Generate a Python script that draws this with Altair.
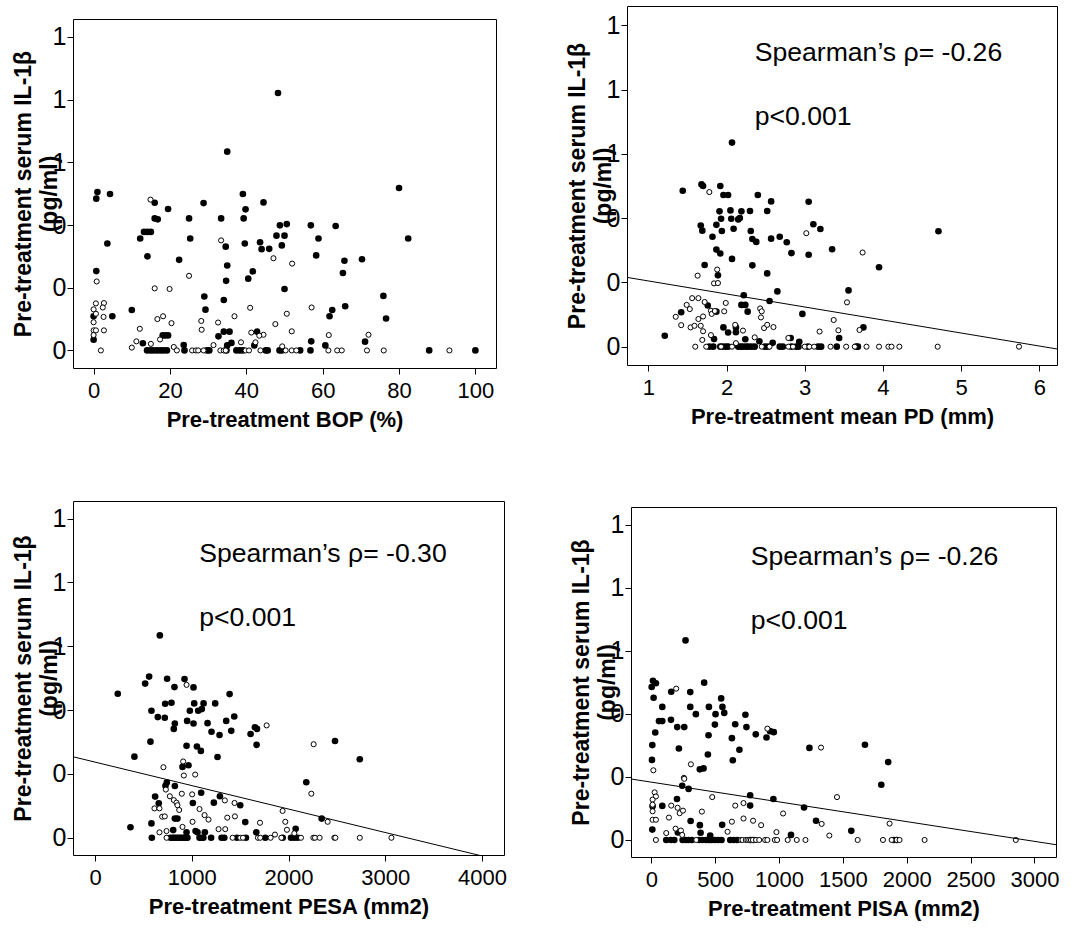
import altair as alt
import pandas as pd

FONT = "Liberation Sans"

Y_TITLE = ["Pre-treatment serum IL-1β", "(pg/ml)"]
Y_TICKS = [0, 0.2, 0.4, 0.6, 0.8, 1.0]

# ---------------- Panel 1: BOP (%) ----------------
bop_filled = [
    (48.3, 0.821), (35.0, 0.634), (80.0, 0.518), (0.7, 0.484), (1.0, 0.505), (4.3, 0.499),
    (16.0, 0.471), (19.5, 0.451), (28.8, 0.470), (39.1, 0.499), (44.5, 0.472), (39.8, 0.450),
    (25.0, 0.421), (33.4, 0.421), (39.3, 0.421), (16.0, 0.421), (16.8, 0.418), (48.8, 0.399),
    (50.6, 0.403), (56.9, 0.399), (63.4, 0.397), (12.2, 0.357), (13.2, 0.378), (14.1, 0.378),
    (15.0, 0.378), (25.3, 0.357), (47.9, 0.366), (50.0, 0.366), (58.9, 0.357), (82.4, 0.357),
    (3.6, 0.341), (43.6, 0.345), (39.6, 0.341), (34.6, 0.331), (44.0, 0.323), (46.0, 0.324),
    (49.3, 0.335), (14.1, 0.300), (22.4, 0.289), (58.3, 0.303), (65.7, 0.286), (70.3, 0.291),
    (35.0, 0.271), (0.7, 0.253), (41.7, 0.252), (65.3, 0.247), (40.5, 0.229), (34.7, 0.222),
    (50.0, 0.196), (29.0, 0.172), (75.9, 0.174), (34.1, 0.161), (10.0, 0.129), (29.3, 0.130),
    (65.9, 0.141), (62.5, 0.129), (61.8, 0.109), (76.6, 0.102), (0.0, 0.109), (4.9, 0.109),
    (0.0, 0.034), (18.1, 0.048), (18.8, 0.048), (19.5, 0.048), (32.7, 0.045), (34.1, 0.060),
    (35.6, 0.060), (42.8, 0.060), (12.9, 0.023), (23.6, 0.017), (36.1, 0.024), (42.1, 0.016),
    (57.0, 0.029), (60.7, 0.016), (71.1, 0.028), (35.0, 0.016),
]
bop_filled_zero = [14.0, 14.9, 15.7, 16.6, 17.5, 18.3, 19.2, 23.8, 29.7, 30.3, 34.8, 37.4,
                   38.3, 39.1, 45.1, 45.6, 48.7, 49.3, 54.1, 56.8, 87.9, 100.0]
bop_open = [
    (14.9, 0.481), (33.4, 0.351), (47.1, 0.294), (52.0, 0.277), (0.8, 0.220), (25.0, 0.238),
    (16.0, 0.198), (19.9, 0.196), (0.6, 0.150), (2.7, 0.151), (0.0, 0.131), (2.4, 0.137),
    (0.6, 0.117), (2.6, 0.107), (18.2, 0.109), (16.7, 0.100), (0.0, 0.090), (0.0, 0.064),
    (0.6, 0.064), (0.0, 0.049), (2.7, 0.064), (12.1, 0.069), (20.4, 0.087), (28.2, 0.094),
    (28.3, 0.066), (32.6, 0.089), (36.9, 0.109), (41.0, 0.136), (57.1, 0.137), (50.6, 0.117),
    (47.6, 0.084), (41.3, 0.057), (44.5, 0.050), (43.4, 0.047), (51.9, 0.061), (61.6, 0.049),
    (72.0, 0.050), (17.4, 0.035), (11.2, 0.029), (15.0, 0.021), (21.0, 0.011), (10.0, 0.009),
    (31.4, 0.017), (38.6, 0.026), (42.4, 0.026), (49.4, 0.013),
]
bop_open_zero = [1.9, 21.8, 25.8, 26.8, 27.4, 28.8, 33.2, 34.1, 34.6, 39.8, 40.7, 43.7, 50.3,
                 51.9, 53.1, 61.5, 63.8, 65.0, 71.6, 76.0, 93.2]

# ---------------- Panel 2: mean PD (mm) ----------------
pd_filled = [
    (2.07, 0.635), (1.44, 0.485), (1.68, 0.505), (1.70, 0.500), (1.92, 0.500), (1.96, 0.472),
    (2.02, 0.472), (2.40, 0.472), (2.57, 0.452), (3.05, 0.451), (1.91, 0.421), (2.05, 0.424),
    (2.19, 0.421), (2.30, 0.422), (2.52, 0.422), (1.93, 0.398), (2.06, 0.398), (2.15, 0.396),
    (2.17, 0.400), (1.67, 0.377), (1.87, 0.379), (2.09, 0.367), (3.11, 0.381), (3.20, 0.366),
    (4.71, 0.359), (1.69, 0.361), (1.94, 0.360), (2.31, 0.360), (1.82, 0.342), (2.68, 0.342),
    (2.57, 0.336), (2.33, 0.335), (2.38, 0.326), (2.77, 0.325), (1.87, 0.302), (1.92, 0.290),
    (2.83, 0.291), (3.35, 0.303), (3.05, 0.286), (2.07, 0.273), (1.72, 0.254), (2.33, 0.253),
    (3.95, 0.247), (2.52, 0.228), (1.89, 0.222), (2.65, 0.172), (3.56, 0.175), (2.22, 0.160),
    (2.55, 0.142), (1.76, 0.128), (2.19, 0.130), (2.24, 0.130), (2.27, 0.109), (2.97, 0.102),
    (1.42, 0.107), (1.87, 0.109), (1.96, 0.060), (2.12, 0.060), (2.12, 0.045), (2.02, 0.044),
    (3.75, 0.060), (1.21, 0.034), (1.84, 0.024), (2.24, 0.023), (2.42, 0.017), (2.59, 0.012),
    (2.82, 0.027), (2.93, 0.015), (3.44, 0.027),
]
pd_filled_zero = [1.78, 1.83, 1.92, 1.95, 1.99, 2.02, 2.15, 2.18, 2.21, 2.25, 2.28, 2.32, 2.36,
                  2.49, 2.53, 2.68, 2.72, 2.83, 2.89, 2.92, 3.04, 3.17, 3.21, 3.41, 3.66, 3.68]
pd_open = [
    (1.78, 0.481), (3.02, 0.353), (3.74, 0.293), (1.88, 0.240), (1.63, 0.221), (1.84, 0.197),
    (1.89, 0.198), (3.54, 0.138), (1.56, 0.151), (1.64, 0.151), (1.49, 0.130), (1.53, 0.117),
    (1.72, 0.139), (1.99, 0.136), (1.35, 0.093), (1.64, 0.086), (1.70, 0.094), (1.80, 0.112),
    (1.81, 0.102), (1.85, 0.111), (1.97, 0.110), (2.43, 0.119), (2.45, 0.110), (2.44, 0.091),
    (1.42, 0.067), (1.54, 0.060), (1.59, 0.065), (1.67, 0.065), (1.70, 0.048), (1.80, 0.036),
    (2.11, 0.068), (2.21, 0.050), (2.48, 0.058), (2.52, 0.068), (2.60, 0.061), (3.37, 0.083),
    (3.43, 0.051), (3.19, 0.047), (3.70, 0.052), (1.69, 0.021), (2.12, 0.011), (2.36, 0.029),
    (2.79, 0.027),
]
pd_open_zero = [1.60, 1.74, 1.93, 2.07, 2.45, 2.55, 2.79, 2.85, 3.00, 3.06, 3.12, 3.33, 3.53,
                3.64, 3.79, 3.95, 4.07, 4.11, 4.21, 4.70, 5.74]

# ---------------- Panel 3: PESA (mm2) ----------------
pesa_filled = [
    (670, 0.634), (235, 0.451), (559, 0.505), (518, 0.483), (745, 0.498), (925, 0.497),
    (1018, 0.471), (821, 0.472), (1391, 0.450), (725, 0.420), (790, 0.423), (1025, 0.421),
    (1122, 0.421), (1242, 0.421), (583, 0.398), (980, 0.398), (1066, 0.398), (1104, 0.403),
    (649, 0.378), (721, 0.376), (952, 0.366), (825, 0.358), (814, 0.341), (1018, 0.358),
    (1163, 0.359), (1356, 0.366), (1439, 0.380), (1408, 0.335), (1204, 0.332), (1287, 0.322),
    (1653, 0.346), (1674, 0.341), (1608, 0.325), (573, 0.301), (946, 0.288), (1053, 0.286),
    (1094, 0.272), (1670, 0.291), (2481, 0.303), (407, 0.254), (1266, 0.253), (2737, 0.246),
    (904, 0.222), (966, 0.227), (742, 0.173), (728, 0.163), (825, 0.162), (1097, 0.141),
    (621, 0.129), (1291, 0.130), (2184, 0.174), (659, 0.108), (1011, 0.109), (1228, 0.110),
    (1501, 0.102), (825, 0.060), (852, 0.060), (583, 0.045), (1553, 0.049), (2343, 0.060),
    (366, 0.033), (808, 0.024), (946, 0.017), (1039, 0.021), (1059, 0.017), (1135, 0.017),
    (1667, 0.017), (2074, 0.028),
]
pesa_filled_zero = [587, 780, 800, 820, 840, 860, 880, 900, 920, 940, 955, 1080, 1100, 1120,
                    1200, 1308, 1336, 1467, 1560, 1760, 1940, 2026, 2060, 2095]
pesa_open = [
    (946, 0.479), (1774, 0.352), (2260, 0.293), (911, 0.239), (707, 0.221), (918, 0.195),
    (1035, 0.198), (732, 0.151), (773, 0.130), (814, 0.118), (842, 0.110), (852, 0.102),
    (897, 0.138), (1004, 0.136), (1342, 0.117), (1442, 0.109), (2236, 0.138), (614, 0.092),
    (666, 0.092), (694, 0.066), (721, 0.067), (1080, 0.090), (1132, 0.071), (1173, 0.057),
    (870, 0.087), (1008, 0.050), (1367, 0.063), (1446, 0.067), (1705, 0.047), (1939, 0.084),
    (1967, 0.050), (1984, 0.025), (2405, 0.050), (904, 0.034), (739, 0.021), (666, 0.017),
    (1277, 0.027), (1346, 0.027), (1860, 0.010), (2060, 0.014),
]
pesa_open_zero = [739, 1422, 1501, 1529, 1684, 1708, 1815, 1926, 2129, 2257, 2274, 2322, 2474,
                  2485, 2737, 3064]

# ---------------- Panel 4: PISA (mm2) ----------------
pisa_filled = [
    (268, 0.633), (13, 0.505), (36, 0.497), (3, 0.485), (414, 0.499), (18, 0.451),
    (156, 0.470), (305, 0.469), (547, 0.449), (86, 0.422), (305, 0.422), (451, 0.422),
    (557, 0.422), (349, 0.399), (503, 0.399), (571, 0.403), (737, 0.397), (60, 0.377),
    (86, 0.377), (154, 0.381), (498, 0.366), (657, 0.367), (203, 0.358), (258, 0.358),
    (745, 0.358), (31, 0.341), (818, 0.335), (959, 0.342), (930, 0.345), (448, 0.332),
    (631, 0.323), (902, 0.325), (8, 0.301), (216, 0.290), (690, 0.286), (1238, 0.292),
    (1673, 0.302), (5, 0.254), (443, 0.271), (638, 0.253), (1855, 0.247), (380, 0.224),
    (409, 0.227), (242, 0.172), (292, 0.162), (1801, 0.175), (201, 0.130), (774, 0.142),
    (956, 0.130), (10, 0.107), (86, 0.108), (774, 0.109), (1196, 0.103), (308, 0.060),
    (555, 0.048), (380, 0.047), (1290, 0.061), (8, 0.033), (208, 0.024), (386, 0.023),
    (461, 0.014), (1094, 0.016), (1566, 0.029),
]
pisa_filled_zero = [117, 154, 180, 245, 270, 292, 318, 375, 400, 430, 452, 470, 497, 523, 550,
                    618, 644, 672, 777, 800, 1900, 1923]
pisa_open = [
    (195, 0.480), (909, 0.353), (1329, 0.293), (16, 0.221), (310, 0.240), (255, 0.197),
    (258, 0.194), (26, 0.151), (36, 0.138), (477, 0.136), (1454, 0.136), (10, 0.128),
    (10, 0.112), (10, 0.091), (10, 0.064), (36, 0.064), (156, 0.109), (206, 0.102),
    (222, 0.085), (248, 0.093), (396, 0.090), (138, 0.071), (657, 0.109), (722, 0.117),
    (1032, 0.084), (631, 0.058), (722, 0.068), (797, 0.061), (860, 0.047), (1334, 0.051),
    (1866, 0.052), (117, 0.022), (190, 0.036), (232, 0.030), (597, 0.026), (980, 0.025),
    (1394, 0.014), (242, 0.016),
]
pisa_open_zero = [36, 352, 701, 714, 740, 753, 767, 780, 795, 820, 845, 891, 909, 967, 985,
                  1068, 1139, 1207, 1616, 1814, 1882, 1921, 1944, 2140, 2854]

# Fit lines (intercept, slope)
pd_fit = (0.245, -0.0405)
pesa_fit = (0.237, -7.35e-5)
pisa_fit = (0.1834, -6.26e-5)

# Annotations
pd_stats = ["Spearman’s ρ= -0.26", "p<0.001"]
pesa_stats = ["Spearman’s ρ= -0.30", "p<0.001"]
pisa_stats = ["Spearman’s ρ= -0.26", "p<0.001"]


def panel(filled, filled_zero, open_pts, open_zero, xtitle, xdomain, xticks, ydomain,
          w, h, fit=None, stats=None, stats_x=None, stats_y=None):
    rows = [{"x": x, "y": y, "g": "filled"} for x, y in filled]
    rows += [{"x": x, "y": 0.0, "g": "filled"} for x in filled_zero]
    rows += [{"x": x, "y": y, "g": "open"} for x, y in open_pts]
    rows += [{"x": x, "y": 0.0, "g": "open"} for x in open_zero]
    df = pd.DataFrame(rows)

    xs = alt.Scale(domain=xdomain, nice=False, zero=False)
    ys = alt.Scale(domain=ydomain, nice=False, zero=False)
    xa = alt.Axis(title=xtitle, values=xticks, format="d", labelFontSize=22,
                  titleFontSize=22, labelPadding=6, titlePadding=8, labelFlush=False)
    ya = alt.Axis(title=Y_TITLE, values=Y_TICKS, format=".0f", labelFontSize=25,
                  titleFontSize=23, labelPadding=1, titleX=-43, titleY=h / 2,
                  titleAngle=-90, titleAlign="center", titleBaseline="alphabetic",
                  titleLineHeight=26, labelFlush=False)
    X = alt.X("x:Q", scale=xs, axis=xa)
    Y = alt.Y("y:Q", scale=ys, axis=ya)

    base = alt.Chart(df)
    filled_layer = base.transform_filter(alt.datum.g == "filled").mark_circle(
        color="black", size=44, opacity=1).encode(x=X, y=Y)
    open_layer = base.transform_filter(alt.datum.g == "open").mark_circle(
        fill="white", stroke="black", strokeWidth=1, size=26, opacity=1).encode(x=X, y=Y)
    layers = [filled_layer, open_layer]

    if fit is not None:
        b0, b1 = fit
        ldf = pd.DataFrame({"x": list(xdomain), "y": [b0 + b1 * v for v in xdomain]})
        layers.append(alt.Chart(ldf).mark_line(color="black", strokeWidth=1, clip=True).encode(
            x=X, y=Y))
    if stats is not None:
        tdf = pd.DataFrame({"x": [stats_x, stats_x], "y": stats_y, "t": stats})
        layers.append(alt.Chart(tdf).mark_text(
            align="left", baseline="alphabetic", fontSize=26.6, font=FONT, color="black").encode(
            x=X, y=Y, text="t:N"))
    return alt.layer(*layers).properties(width=w, height=h)


def spacer(h):
    sdf = pd.DataFrame({"a": [0]})
    return alt.Chart(sdf).mark_point(opacity=0).encode(
        x=alt.X("a:Q", axis=None), y=alt.Y("a:Q", axis=None)
    ).properties(width=1, height=h, view=alt.ViewBackground(stroke=None))


p1 = panel(bop_filled, bop_filled_zero, bop_open, bop_open_zero, "Pre-treatment BOP (%)",
           [-5.4, 105.4], [0, 20, 40, 60, 80, 100], [-0.056, 1.057], 423, 349)
p2 = panel(pd_filled, pd_filled_zero, pd_open, pd_open_zero, "Pre-treatment mean PD (mm)",
           [0.727, 6.226], [1, 2, 3, 4, 5, 6], [-0.057, 1.06], 430, 359,
           fit=pd_fit, stats=pd_stats, stats_x=2.36, stats_y=[0.889, 0.69])
p3 = panel(pesa_filled, pesa_filled_zero, pesa_open, pesa_open_zero, "Pre-treatment PESA (mm2)",
           [-228, 4228], [0, 1000, 2000, 3000, 4000], [-0.054, 1.055], 431, 354,
           fit=pesa_fit, stats=pesa_stats, stats_x=1077, stats_y=[0.864, 0.663])
p4 = panel(pisa_filled, pisa_filled_zero, pisa_open, pisa_open_zero, "Pre-treatment PISA (mm2)",
           [-159, 3169], [0, 500, 1000, 1500, 2000, 2500, 3000], [-0.054, 1.056], 425, 350,
           fit=pisa_fit, stats=pisa_stats, stats_x=779, stats_y=[0.873, 0.669])

row1 = alt.hconcat(alt.vconcat(spacer(12), p1, spacing=0), p2, spacing=68)
row2 = alt.hconcat(p3, alt.vconcat(spacer(3), p4, spacing=0), spacing=62)
chart = alt.vconcat(row1, row2, spacing=68).properties(
    padding={"left": 11, "top": 5, "right": 5, "bottom": 5}
).configure(font=FONT, background="white").configure_view(
    stroke="black", strokeWidth=1
).configure_axis(
    domain=False, grid=False, tickColor="black", tickSize=6, tickWidth=1,
    labelColor="black", labelFont=FONT, titleFont=FONT, titleFontWeight="bold",
    titleColor="black"
).configure_title(font=FONT)

chart.save("out.html", embed_options={"renderer": "svg", "actions": False})
